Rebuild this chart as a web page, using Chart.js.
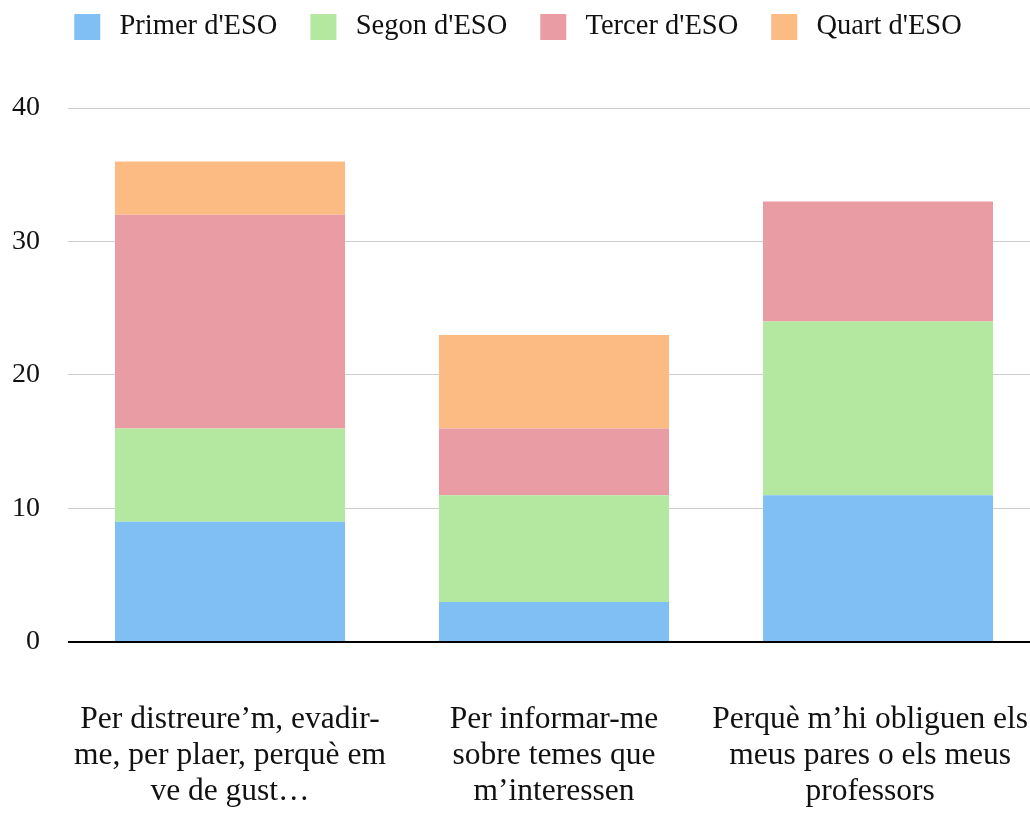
<!DOCTYPE html>
<html>
<head>
<meta charset="utf-8">
<script src="https://cdn.jsdelivr.net/npm/chart.js@4"></script>
<style>
  html, body { margin: 0; padding: 0; background: #fff; }
  #wrap { width: 1030px; height: 816px; overflow: hidden; }
  /* the plot runs a little past the right edge, like the original crop */
  #inner { width: 1040px; height: 816px; }
</style>
</head>
<body>
<div id="wrap"><div id="inner"><canvas id="chart"></canvas></div></div>
<script>
// --- Data ---
const categories = [
    ['Per distreure\u2019m, evadir-', 'me, per plaer, perquè em', 've de gust\u2026'],
    ['Per informar-me', 'sobre temes que', 'm\u2019interessen'],
    ['Perquè m\u2019hi obliguen els\u00a0\u00a0', 'meus pares o els meus\u00a0\u00a0', 'professors\u00a0\u00a0']
];
const primer = [9, 3, 11];
const segon = [7, 8, 13];
const tercer = [16, 5, 9];
const quart = [4, 7, 0];
const yTicks = [0, 10, 20, 30, 40];

const serif = "'Liberation Serif', 'Times New Roman', serif";

// push the plot down below the legend, and keep the legend centred in the visible 1030px
const legendGap = {
    id: 'legendGap',
    beforeInit(chart) {
        const origFit = chart.legend.fit;
        chart.legend.fit = function () {
            origFit.call(this);
            this.height += 53;
        };
    },
    afterLayout(chart) {
        chart.legend.left = 0;
        chart.legend.right = 1031;
    }
};

new Chart(document.getElementById('chart'), {
    type: 'bar',
    data: {
        labels: categories,
        datasets: [
            { label: "Primer d'ESO", data: primer, backgroundColor: '#7fbff4' },
            { label: "Segon d'ESO", data: segon, backgroundColor: '#b4e7a0' },
            { label: "Tercer d'ESO", data: tercer, backgroundColor: '#ea9ca5' },
            { label: "Quart d'ESO", data: quart, backgroundColor: '#fdbb84' }
        ]
    },
    options: {
        responsive: true,
        maintainAspectRatio: false,
        animation: false,
        layout: { padding: { left: 12, right: 0, top: -19, bottom: 6 } },
        datasets: { bar: { categoryPercentage: 1, barPercentage: 0.71 } },
        plugins: {
            legend: {
                position: 'top',
                labels: {
                    boxWidth: 36, boxHeight: 36, padding: 28,
                    color: '#111', font: { family: serif, size: 28.5 },
                    // white outline makes the coloured square smaller and leaves a wider gap to the text
                    generateLabels(chart) {
                        return Chart.defaults.plugins.legend.labels.generateLabels(chart).map(l => {
                            l.strokeStyle = '#fff';
                            l.lineWidth = 10;
                            return l;
                        });
                    }
                }
            },
            tooltip: { enabled: false }
        },
        scales: {
            x: {
                stacked: true,
                grid: { display: false, drawTicks: false },
                border: { display: false },
                ticks: {
                    maxRotation: 0, autoSkip: false, padding: 60,
                    color: '#111', font: { family: serif, size: 31.5, lineHeight: 1.143 }
                },
                // let the outer labels run to the edges, padding only above the labels
                afterFit(scale) {
                    scale.paddingLeft = 0;
                    scale.paddingRight = 0;
                    scale.height -= scale.options.ticks.padding;
                }
            },
            y: {
                stacked: true,
                min: 0, max: 40,
                afterBuildTicks(axis) { axis.ticks = yTicks.map(v => ({ value: v })); },
                grid: {
                    drawTicks: false,
                    color: ctx => ctx.tick && ctx.tick.value === 0 ? '#000' : '#cccccc',
                    lineWidth: ctx => ctx.tick && ctx.tick.value === 0 ? 2 : 1
                },
                border: { display: false },
                ticks: {
                    padding: 28,
                    color: '#111', font: { family: serif, size: 28 }
                },
                afterFit(scale) { scale.width -= scale.options.ticks.padding; }
            }
        }
    },
    plugins: [legendGap]
});
</script>
</body>
</html>
